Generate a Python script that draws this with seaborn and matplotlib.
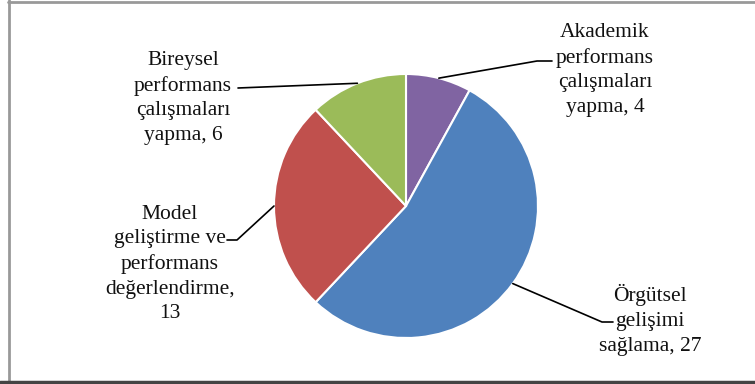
import numpy as np
import matplotlib
matplotlib.use("Agg")
import matplotlib.pyplot as plt
import seaborn as sns
from matplotlib.lines import Line2D

sns.set_theme(style="white")
plt.rcParams['font.family'] = ['Liberation Serif', 'DejaVu Serif']

labels = ["Akademik\nperformans\nçalışmaları\nyapma, 4",
          "Örgütsel\ngelişimi\nsağlama, 27",
          "Model\ngeliştirme ve\nperformans\ndeğerlendirme,\n13",
          "Bireysel\nperformans\nçalışmaları\nyapma, 6"]
values = [4, 27, 13, 6]
colors = ["#8064A2", "#4F81BD", "#C0504D", "#9BBB59"]

W, H = 755, 384
cx, cy, R = 406, 206, 132

fig = plt.figure(figsize=(W / 100, H / 100), dpi=100)
ax = fig.add_axes([(cx - R) / W, (H - cy - R) / H, 2 * R / W, 2 * R / H])
wedges, _ = ax.pie(values, colors=colors, startangle=90, counterclock=False,
                   wedgeprops=dict(edgecolor="white", linewidth=1.5))
ax.set_xlim(-1, 1)
ax.set_ylim(-1, 1)
ax.set_aspect("auto")
ax.axis("off")

def d(px, py):
    return ((px - cx) / R, (cy - py) / R)

# label centers (pixels) and leader elbows / ends (pixels)
text_pos = [(605, 70), (650, 320), (170, 264), (183, 98)]
leaders = [[(537, 61), (552, 61)],
           [(602, 322), (613, 322)],
           [(237, 240), (227, 240)],
           [(238, 88)]]

for w, lab, tp, pts in zip(wedges, labels, text_pos, leaders):
    ang = np.deg2rad((w.theta1 + w.theta2) / 2)
    xs = [np.cos(ang)] + [d(*p)[0] for p in pts]
    ys = [np.sin(ang)] + [d(*p)[1] for p in pts]
    ax.add_line(Line2D(xs, ys, color="black", linewidth=1.2, clip_on=False))
    tx, ty = d(*tp)
    ax.text(tx, ty, lab, ha="center", va="center", fontsize=15.5,
            color="#111111", linespacing=1.4, clip_on=False)

# figure frame
fig.add_artist(Line2D([8 / W, 1], [1 - 1.5 / H, 1 - 1.5 / H], transform=fig.transFigure, color="#999999", linewidth=2))
fig.add_artist(Line2D([8.5 / W, 8.5 / W], [0, 1], transform=fig.transFigure, color="#999999", linewidth=2))
fig.add_artist(Line2D([0, 1], [2 / H, 2 / H], transform=fig.transFigure, color="#444444", linewidth=2.5))

fig.savefig("out.png", dpi=100)
